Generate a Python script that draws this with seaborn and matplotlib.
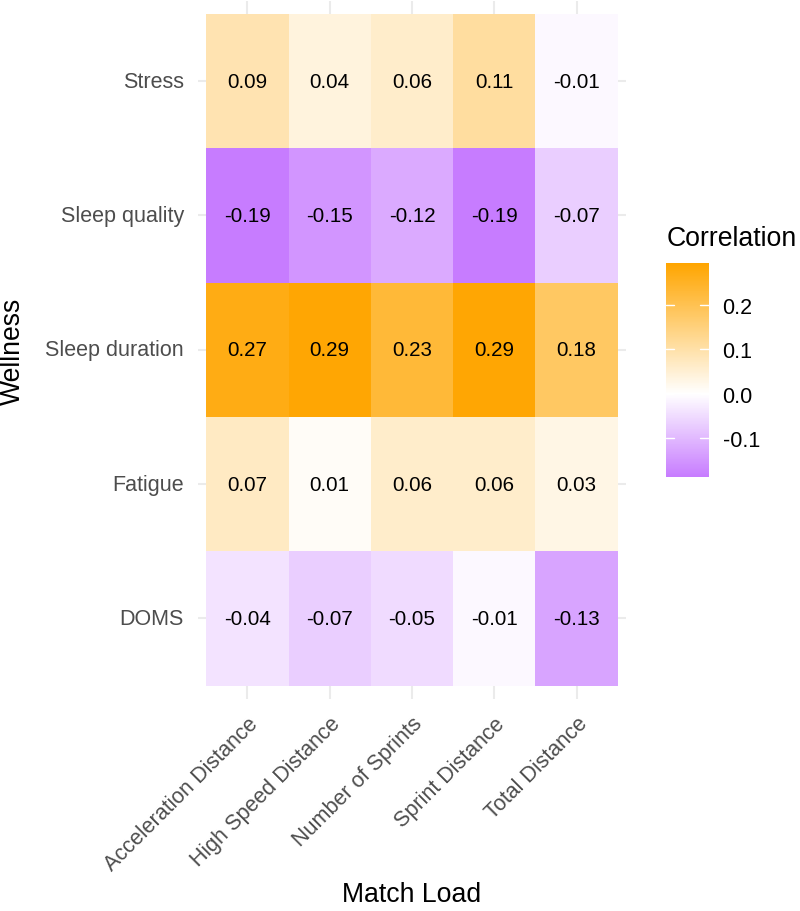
import matplotlib
matplotlib.use("Agg")
import matplotlib.pyplot as plt
import matplotlib.transforms as mtransforms
from matplotlib.colors import LinearSegmentedColormap
import seaborn as sns
import pandas as pd

# dados
wellness = ["Stress", "Sleep quality", "Sleep duration", "Fatigue", "DOMS"]
match_load = ["Acceleration Distance", "High Speed Distance", "Number of Sprints",
              "Sprint Distance", "Total Distance"]
stress = [0.09, 0.04, 0.06, 0.11, -0.01]
sleep_quality = [-0.19, -0.15, -0.12, -0.19, -0.07]
sleep_duration = [0.27, 0.29, 0.23, 0.29, 0.18]
fatigue = [0.07, 0.01, 0.06, 0.06, 0.03]
doms = [-0.04, -0.07, -0.05, -0.01, -0.13]
cbar_ticks = [-0.1, 0.0, 0.1, 0.2]
escala_min, escala_max = -0.187, 0.294

df = pd.DataFrame([stress, sleep_quality, sleep_duration, fatigue, doms],
                  index=wellness, columns=match_load)

sns.set_style("white")
plt.rcParams["font.family"] = ["Liberation Sans", "DejaVu Sans"]

# gradiente roxo -> branco -> laranja com o branco em zero
pos_zero = -escala_min / (escala_max - escala_min)
cmap = LinearSegmentedColormap.from_list(
    "corr", [(0.0, "#C77CFF"), (pos_zero, "#FFFFFF"), (1.0, "#FFA500")])

fig = plt.figure(figsize=(8, 9.12), dpi=100)
ax = fig.add_axes([198 / 800, 1 - 700 / 912, 428 / 800, 698.4 / 912])
cax = fig.add_axes([665.7 / 800, 1 - 478 / 912, 43 / 800, 214 / 912])

sns.heatmap(df, cmap=cmap, vmin=escala_min, vmax=escala_max, annot=True, fmt=".2f",
            annot_kws={"color": "black", "fontsize": 14.8}, linewidths=0,
            cbar_ax=cax, cbar_kws={"ticks": cbar_ticks}, ax=ax)

# grade estilo theme_minimal
ax.set_axisbelow(True)
ax.grid(True, color="#ebebeb", linewidth=1.5)
ax.set_xlim(-0.1, len(match_load) + 0.1)
ax.set_ylim(len(wellness) + 0.1, -0.1)
for s in ax.spines.values():
    s.set_visible(False)

ax.set_xlabel("")
ax.set_ylabel("")
ax.tick_params(axis="both", length=0, colors="#4d4d4d", labelsize=15.5)
ax.tick_params(axis="y", pad=10, rotation=0)
ax.tick_params(axis="x", pad=10)
for lbl in ax.get_xticklabels():
    lbl.set_rotation(45)
    lbl.set_ha("right")
    lbl.set_va("top")
    lbl.set_rotation_mode("anchor")

fig.text(13 / 800, 1 - 351 / 912, "Wellness", rotation=90, ha="center", va="center",
         fontsize=19.2, color="black")
fig.text(412 / 800, 1 - 895 / 912, "Match Load", ha="center", va="center",
         fontsize=19.2, color="black")

# barra de cores
cbar = ax.collections[0].colorbar
cbar.outline.set_visible(False)
cax.tick_params(length=0, labelsize=15.5, colors="black", pad=10)
cax.set_yticklabels([f"{t:.1f}" for t in cbar_ticks])
trans = mtransforms.blended_transform_factory(cax.transAxes, cax.transData)
for t in cbar_ticks:
    cax.plot([0, 0.2], [t, t], color="white", linewidth=1, transform=trans)
    cax.plot([0.8, 1], [t, t], color="white", linewidth=1, transform=trans)
fig.text(666.7 / 800, 1 - 246 / 912, "Correlation", ha="left", va="baseline",
         fontsize=19.2, color="black")

fig.savefig("out.png", dpi=100)
